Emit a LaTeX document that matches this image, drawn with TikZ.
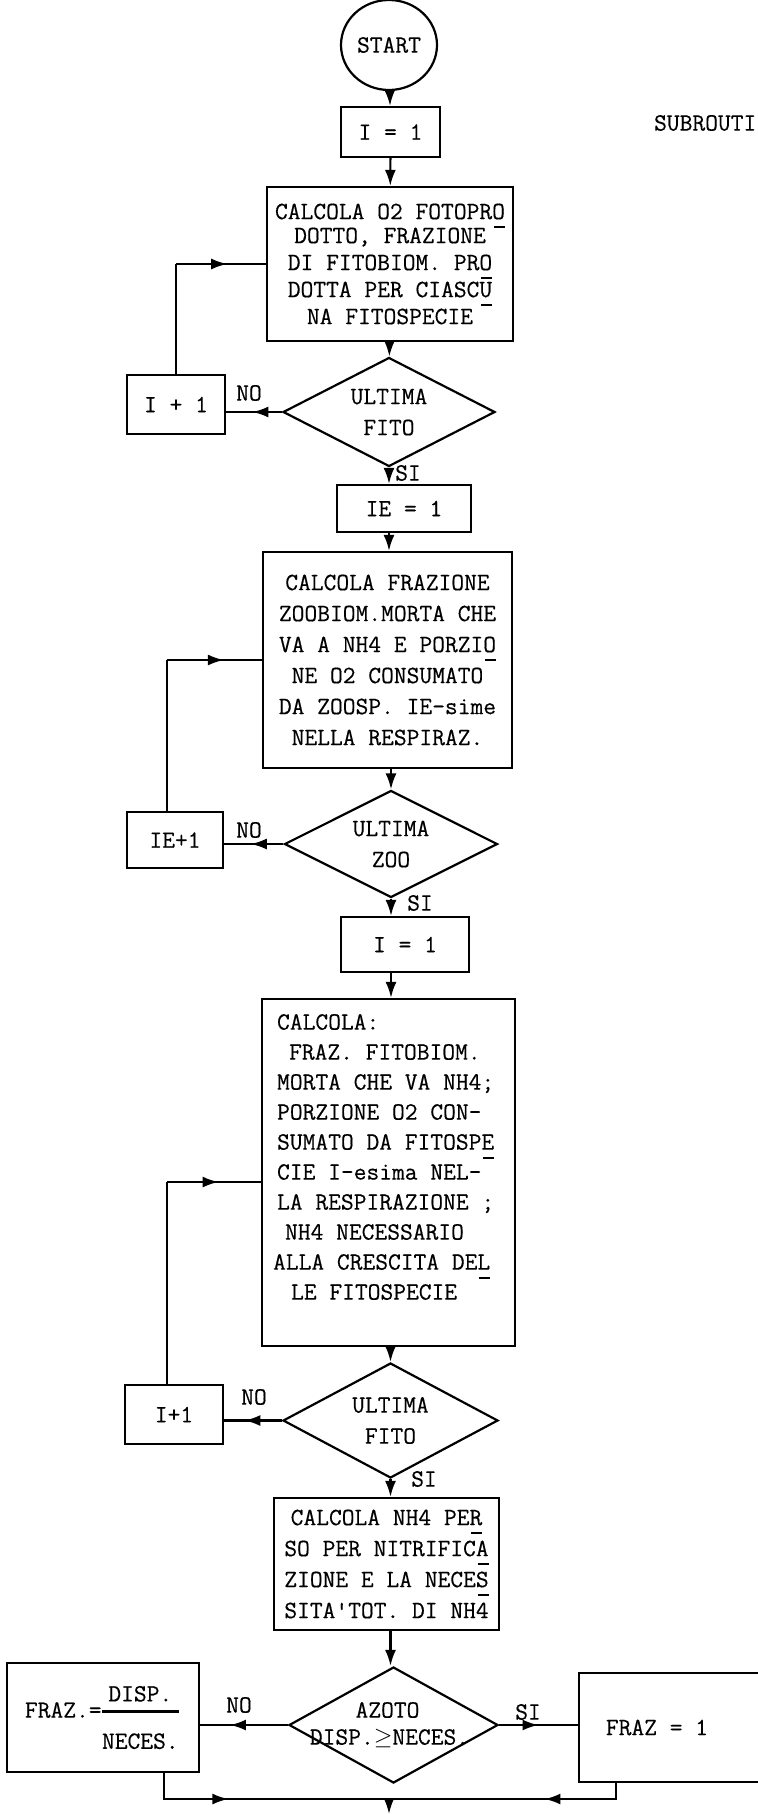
\documentclass[tikz,border=0pt]{standalone}
\usepackage{fontspec}
\usepackage{amsmath}
\newfontfamily\twfont{Latin Modern Mono}[FakeBold=0.4]
\usetikzlibrary{shapes.geometric, arrows.meta, decorations.markings, positioning}

% dash under the last letter of a split word
\newcommand{\dn}[1]{#1\llap{\smash{\rule[-4.5pt]{0.45em}{0.9pt}}}}

\tikzset{
    tw/.style={font=\fontsize{12.4}{15.5}\selectfont\twfont},
    box/.style={tw, draw, rectangle, inner sep=0pt, align=center},
    decision/.style={tw, draw, diamond, inner sep=0pt, aspect=2, align=center},
    lbl/.style={tw, inner sep=0pt},
    flow/.style={-{Latex[length=8pt,width=5.5pt]}},
    midarr/.style={postaction={decorate}, decoration={markings,
        mark=at position #1 with {\arrow{Latex[length=8pt,width=5.5pt]}}}}
}

\begin{document}
\begin{tikzpicture}[x=0.5pt, y=-0.5pt, line width=1.1pt]
    \clip (0,0) rectangle (758,1814);

    \node[tw, draw, ellipse, inner sep=0pt, minimum width=48pt, minimum height=45pt] (start) at (389,45) {START};
    \node[lbl, anchor=west] (subr) at (653,123) {SUBROUTI};

    \node[box, minimum width=49.5pt, minimum height=25pt] (i1) at (390.5,132) {I = 1};
    \node[box, minimum width=123pt, minimum height=77pt, font=\fontsize{12.4}{13.5}\selectfont\twfont] (calc1) at (390,264)
        {CALCOLA O2 FOTOPR\dn{O}\\[-1.5pt] DOTTO, FRAZIONE\\ DI FITOBIOM. PR\dn{O}\\ DOTTA PER CIASC\dn{U}\\ NA FITOSPECIE};
    \node[decision, minimum width=106pt, minimum height=54.5pt] (d1) at (389,412) {ULTIMA\\FITO};
    \node[box, minimum width=49pt, minimum height=29.5pt] (ip1) at (176,404.5) {I + 1};
    \node[box, minimum width=67pt, minimum height=23.5pt] (ie1) at (404,508.5) {IE = 1};

    \node[box, minimum width=124.5pt, minimum height=108pt] (calc2) at (387.5,660)
        {CALCOLA FRAZIONE\\ ZOOBIOM.MORTA CHE\\ VA A NH4 E PORZI\dn{O}\\ NE O2 CONSUMATO\\ DA ZOOSP. IE-sime\\ NELLA RESPIRAZ.};
    \node[decision, minimum width=106.5pt, minimum height=53.5pt] (d2) at (391,844) {ULTIMA\\ZOO};
    \node[box, minimum width=48pt, minimum height=28pt] (iep1) at (175,840) {IE+1};
    \node[box, minimum width=64pt, minimum height=27.5pt] (i1b) at (405,944.5) {I = 1};

    \node[box, minimum width=126.5pt, minimum height=173.5pt] (calc3) at (388.5,1172.5) {};
    \node[tw, align=left, inner sep=0pt, anchor=north west, font=\fontsize{12.4}{15}\selectfont\twfont] (calc3txt) at (276,1013)
        {CALCOLA:\\ \hspace*{6pt}FRAZ. FITOBIOM.\\ MORTA CHE VA NH4;\\ PORZIONE O2 CON-\\ SUMATO DA FITOSP\dn{E}\\
         CIE I-esima NEL-\\ LA RESPIRAZIONE ;\\ \hspace*{4pt}NH4 NECESSARIO\\ \hspace*{-2pt}ALLA CRESCITA DE\dn{L}\\ \hspace*{7pt}LE FITOSPECIE};
    \node[decision, minimum width=107.5pt, minimum height=57.5pt] (d3) at (390.5,1420.5) {ULTIMA\\FITO};
    \node[box, minimum width=49pt, minimum height=29.5pt] (ip1b) at (174,1414.5) {I+1};

    \node[box, minimum width=112.5pt, minimum height=66pt] (calc4) at (386.5,1564)
        {CALCOLA NH4 PE\dn{R}\\ SO PER NITRIFIC\dn{A}\\ ZIONE E LA NECE\dn{S}\\ SITA'TOT. DI NH4};
    \node[decision, minimum width=104.5pt, minimum height=58pt] (d4) at (393.5,1725)
        {\hspace*{-6pt}AZOTO\\[-2pt] \makebox[40pt]{\hspace*{-4pt}DISP.$\geq$NECES.}};
    \node[box, minimum width=96pt, minimum height=54.5pt] (frazl) at (103,1717.5)
        {FRAZ.=\kern-1pt$\genfrac{}{}{1.3pt}{0}{\mbox{DISP.}}{\rule{0pt}{14pt}\mbox{NECES.}}$};
    \node[box, minimum width=95.5pt, minimum height=54.5pt] (frazr) at (674.5,1727.5) {FRAZ = 1\hspace*{17.5pt}};

    % labels
    \node[lbl] (no1) at (249,393) {NO};
    \node[lbl] (si1) at (408,473) {SI};
    \node[lbl] (no2) at (249,830) {NO};
    \node[lbl] (si2) at (420,903) {SI};
    \node[lbl] (no3) at (254,1397) {NO};
    \node[lbl] (si3) at (424,1479) {SI};
    \node[lbl] (no4) at (239,1705) {NO};
    \node[lbl] (si4) at (528,1712) {SI};

    \coordinate (join) at (389,1799);
    \coordinate (out) at (389,1814);

    % main line
    \draw[flow] (start) -- (i1);
    \draw[flow] (i1) -- (calc1);
    \draw[flow] (calc1) -- (d1);
    \draw[flow] (d1.south) -- (d1.south |- ie1.north);
    \draw[flow] (d1.south |- ie1.south) -- (d1.south |- calc2.north);
    \draw[flow] (d2.north |- calc2.south) -- (d2.north);
    \draw[flow] (d2.south) -- (d2.south |- i1b.north);
    \draw[flow] (d2.south |- i1b.south) -- (d2.south |- calc3.north);
    \draw[flow] (d3.north |- calc3.south) -- (d3.north);
    \draw[flow] (d3.south) -- (d3.south |- calc4.north);
    \draw[flow] (d3.south |- calc4.south) -- (d3.south |- d4.north);

    % loops
    \draw[midarr=0.53] (d1.west) -- (d1.west -| ip1.east);
    \draw (ip1.north) -- (ip1.north |- calc1.west);
    \draw[midarr=0.57] (ip1.north |- calc1.west) -- (calc1.west);
    \draw[midarr=0.55] (d2.west) -- (d2.west -| iep1.east);
    \draw ([xshift=-4pt]iep1.north) -- ([xshift=-4pt]iep1.north |- calc2.west);
    \draw[midarr=0.6] ([xshift=-4pt]iep1.north |- calc2.west) -- (calc2.west);
    \draw[midarr=0.65] (d3.west) -- (d3.west -| ip1b.east);
    \draw ([xshift=-3.5pt]ip1b.north) -- ([xshift=-3.5pt]ip1b.north |- 0,1182);
    \draw[midarr=0.55] ([xshift=-3.5pt]ip1b.north |- 0,1182) -- (calc3.west |- 0,1182);

    % azoto
    \draw[midarr=0.66] (d4.west) -- (d4.west -| frazl.east);
    \draw[midarr=0.5] (d4.east) -- (d4.east -| frazr.west);
    \draw[midarr=0.36] ([xshift=30.5pt]frazl.south) |- (join);
    \draw[midarr=0.36] ([xshift=-29.25pt]frazr.south) |- (join);
    \draw[flow] (join) -- (out);
\end{tikzpicture}
\end{document}
